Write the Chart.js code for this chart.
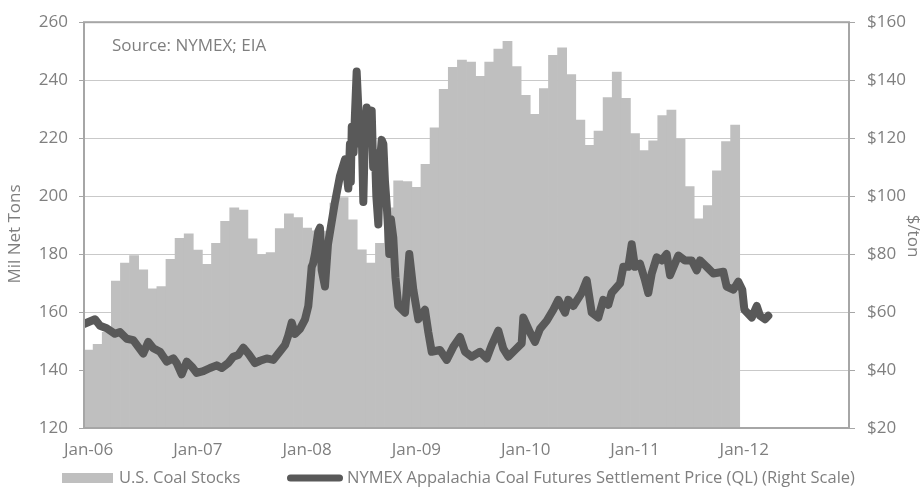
<!DOCTYPE html>
<html>
<head>
<meta charset="utf-8">
<script src="https://cdn.jsdelivr.net/npm/chart.js@4.4.1/dist/chart.umd.min.js"></script>
<style>
  html, body { margin: 0; padding: 0; background: #ffffff; }
  #wrap { width: 923px; height: 492px; position: relative; }
</style>
</head>
<body>
<div id="wrap"><canvas id="chart" width="923" height="492"></canvas></div>
<script>
// Category axis: one slot per month, Jan-06 through Dec-12
const axisYears = ['06', '07', '08', '09', '10', '11', '12'];
const monthNames = ['Jan', 'Feb', 'Mar', 'Apr', 'May', 'Jun', 'Jul', 'Aug', 'Sep', 'Oct', 'Nov', 'Dec'];

// U.S. coal stocks, million net tons, monthly Jan-06 .. Dec-11
const coalStocks = [
  146.9, 148.9, 153.0, 170.7, 176.9, 179.5, 174.6, 168.0, 168.8, 178.2, 185.4, 187.0,
  181.4, 176.5, 183.7, 191.3, 196.0, 195.2, 185.3, 179.8, 180.5, 188.8, 193.9, 192.6,
  189.0, 188.0, 187.9, 197.6, 199.5, 191.8, 181.5, 176.9, 183.7, 196.0, 205.3, 205.0,
  203.0, 211.0, 223.6, 236.8, 244.4, 246.9, 246.2, 241.3, 246.2, 250.7, 253.4, 244.7,
  234.8, 228.2, 237.1, 248.6, 251.2, 241.9, 226.2, 217.5, 222.4, 234.0, 242.8, 233.7,
  221.6, 215.7, 219.1, 227.8, 229.7, 219.7, 203.3, 192.2, 196.7, 208.7, 218.8, 224.5
];

// NYMEX Appalachia coal futures settlement ($/ton); time in months since Jan-06.
// Each row of priceMonths pairs with the same row of priceValues.
const priceMonths = [
  0.00, 1.21, 1.76, 2.49, 3.40, 3.95, 4.69, 5.41, 5.96, 6.51,
  7.06, 7.61, 8.35, 9.08, 9.81, 10.18, 10.73, 11.28, 11.83, 12.38,
  13.10, 13.84, 14.57, 15.12, 15.84, 16.39, 16.94, 17.49, 18.04, 18.78,
  19.33, 20.06, 20.79, 21.34, 22.07, 22.43, 22.81, 23.17, 23.72, 24.27,
  24.63, 24.82, 25.00, 25.15, 25.36, 25.73, 25.91, 26.10, 26.46, 26.79,
  27.56, 28.11, 28.66, 29.02, 29.20, 29.30, 29.40, 29.60, 29.75, 29.94,
  30.12, 30.30, 30.45, 30.67, 30.85, 31.04, 31.30, 31.59, 31.75, 31.95,
  32.10, 32.32, 32.50, 32.69, 32.87, 33.05, 33.24, 33.40, 33.52, 33.70,
  33.96, 34.20, 34.51, 35.25, 35.72, 36.16, 36.71, 37.44, 37.81, 38.18,
  39.09, 39.83, 40.55, 41.29, 41.84, 42.57, 43.48, 44.22, 44.77, 45.49,
  46.04, 46.59, 47.33, 48.06, 48.24, 48.97, 49.52, 50.07, 50.81, 51.53,
  52.08, 52.82, 53.18, 53.73, 54.65, 55.20, 55.75, 56.47, 57.02, 57.57,
  57.94, 58.86, 59.22, 59.77, 60.14, 60.50, 61.05, 61.60, 61.96, 62.34,
  62.89, 63.43, 63.98, 64.35, 65.26, 65.99, 66.73, 67.28, 67.64, 68.38,
  69.10, 70.20, 70.57, 71.30, 71.85, 72.28, 72.51, 73.32, 73.87, 74.23,
  74.78, 75.14
];
const priceValues = [
  55.9, 57.5, 55.3, 54.4, 52.5, 53.1, 50.8, 50.3, 48.0, 45.7,
  49.7, 47.5, 46.3, 42.9, 44.0, 42.4, 38.5, 42.9, 41.2, 39.0,
  39.6, 40.7, 41.6, 40.7, 42.4, 44.6, 45.2, 47.7, 45.7, 42.4,
  43.2, 44.0, 43.5, 45.7, 48.6, 51.9, 56.4, 52.5, 54.2, 57.5,
  62.1, 68.8, 75.6, 76.7, 80.0, 87.9, 89.1, 74.4, 68.8, 83.4,
  98.0, 107.0, 112.7, 102.6, 118.0, 105.0, 123.9, 115.0, 128.0, 143.0,
  130.6, 118.0, 128.0, 98.0, 122.0, 130.6, 124.0, 129.5, 110.0, 115.0,
  100.0, 90.2, 112.0, 119.4, 118.0, 105.0, 96.9, 88.0, 80.0, 92.0,
  85.7, 72.0, 62.1, 59.8, 80.0, 67.7, 57.5, 60.8, 53.0, 46.3,
  46.9, 43.5, 48.0, 51.4, 46.3, 44.6, 46.3, 44.0, 48.6, 53.6,
  47.4, 44.6, 46.9, 49.2, 58.1, 53.0, 49.7, 54.2, 57.0, 60.8,
  64.2, 59.8, 64.2, 62.1, 66.6, 71.0, 59.8, 58.1, 64.2, 62.5,
  66.6, 69.9, 75.6, 75.6, 83.4, 75.6, 76.7, 71.0, 66.6, 73.3,
  78.9, 77.8, 80.0, 72.7, 79.5, 77.8, 77.8, 74.4, 77.8, 75.6,
  73.3, 73.9, 68.8, 67.7, 70.5, 67.7, 60.8, 58.1, 62.1, 58.7,
  57.5, 58.7
];

const monthLabels = [];
axisYears.forEach(y => monthNames.forEach(m => monthLabels.push(m + '-' + y)));

const FONT = "'Open Sans', 'DejaVu Sans', sans-serif";
const TEXT_GRAY = '#7f7f7f';
const BAR_GRAY = '#bfbfbf';
const LINE_GRAY = '#595959';
const FRAME_GRAY = '#a6a6a6';

Chart.defaults.font.family = FONT;
Chart.defaults.font.size = 17;
Chart.defaults.color = TEXT_GRAY;

// Plot-area frame, axis titles, source note and the bottom legend
const decorations = {
  id: 'decorations',
  afterDraw(chart) {
    const { ctx, chartArea: a } = chart;
    ctx.save();
    ctx.strokeStyle = FRAME_GRAY;
    ctx.lineWidth = 2;
    ctx.strokeRect(a.left, a.top, a.right - a.left, a.bottom - a.top);

    ctx.fillStyle = TEXT_GRAY;
    ctx.font = '17px ' + FONT;
    ctx.textAlign = 'center';
    ctx.textBaseline = 'middle';
    ctx.save();
    ctx.translate(15, 234);
    ctx.rotate(-Math.PI / 2);
    ctx.fillText('Mil Net Tons', 0, 0);
    ctx.restore();
    ctx.save();
    ctx.translate(913, 236);
    ctx.rotate(Math.PI / 2);
    ctx.fillText('$/ton', 0, 0);
    ctx.restore();

    ctx.textAlign = 'left';
    ctx.fillText('Source: NYMEX; EIA', 112, 46);

    // legend
    const ly = 478;
    const bars = chart.data.datasets[1];
    const line = chart.data.datasets[0];
    ctx.font = '16.5px ' + FONT;
    ctx.fillStyle = bars.backgroundColor;
    ctx.fillRect(62, ly - 5, 51, 10);
    ctx.fillStyle = TEXT_GRAY;
    ctx.fillText(bars.label, 119, ly);
    ctx.strokeStyle = line.borderColor;
    ctx.lineWidth = 7;
    ctx.lineCap = 'round';
    ctx.beginPath();
    ctx.moveTo(290.5, ly);
    ctx.lineTo(339.5, ly);
    ctx.stroke();
    ctx.fillText(line.label, 347, ly);
    ctx.restore();
  }
};

new Chart(document.getElementById('chart'), {
  type: 'bar',
  data: {
    labels: monthLabels,
    datasets: [
      {
        type: 'line',
        label: 'NYMEX Appalachia Coal Futures Settlement Price (QL) (Right Scale)',
        data: priceMonths.map((m, i) => ({ x: m, y: priceValues[i] })),
        xAxisID: 'xTime',
        yAxisID: 'yPrice',
        borderColor: LINE_GRAY,
        borderWidth: 8,
        borderCapStyle: 'round',
        borderJoinStyle: 'round',
        pointRadius: 0,
        tension: 0,
        order: 0
      },
      {
        type: 'bar',
        label: 'U.S. Coal Stocks',
        data: coalStocks,
        xAxisID: 'x',
        yAxisID: 'y',
        backgroundColor: BAR_GRAY,
        borderWidth: 0,
        barPercentage: 1,
        categoryPercentage: 1,
        grouped: false,
        order: 1
      }
    ]
  },
  options: {
    responsive: false,
    animation: false,
    devicePixelRatio: 1,
    datasets: { bar: { barPercentage: 1, categoryPercentage: 1 } },
    layout: { padding: { top: 13, left: 0, right: 0, bottom: 0 } },
    plugins: { legend: { display: false }, tooltip: { enabled: false } },
    scales: {
      x: {
        type: 'category',
        offset: true,
        grid: { display: false, drawTicks: false },
        border: { display: false },
        ticks: {
          autoSkip: false,
          maxRotation: 0,
          padding: 12,
          callback(value, index) {
            return index % 12 === 0 ? this.getLabelForValue(value) : '';
          }
        },
        afterFit(scale) { scale.height = 64; }
      },
      xTime: {
        type: 'linear',
        display: false,
        offset: false,
        grid: { offset: false },
        bounds: 'ticks',
        min: 0,
        max: 84
      },
      y: {
        position: 'left',
        min: 120,
        max: 260,
        ticks: { stepSize: 20, padding: 11 },
        grid: { color: '#c9c9c9', lineWidth: 1, tickLength: 5, tickColor: FRAME_GRAY },
        border: { display: false },
        afterFit(scale) { scale.width = 84; }
      },
      yPrice: {
        position: 'right',
        min: 20,
        max: 160,
        ticks: { stepSize: 20, padding: 12, callback: v => '$' + v },
        grid: { drawOnChartArea: false, tickLength: 6, color: FRAME_GRAY },
        border: { display: false },
        afterFit(scale) { scale.width = 74; }
      }
    }
  },
  plugins: [decorations]
});
</script>
</body>
</html>
